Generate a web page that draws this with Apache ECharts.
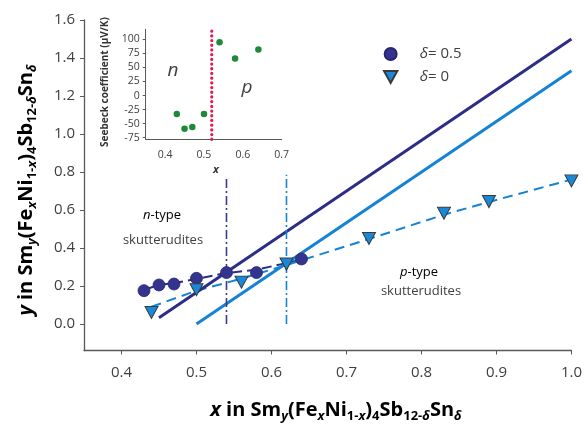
<!DOCTYPE html>
<html><head><meta charset="utf-8">
<script src="https://cdn.jsdelivr.net/npm/echarts@6/dist/echarts.min.js"></script>
<style>html,body{margin:0;padding:0;background:#fff}#c{width:585px;height:426px}</style>
</head><body><div id="c"></div>
<script>
// ---- main chart data ----
const xTicks = [0.4, 0.5, 0.6, 0.7, 0.8, 0.9, 1.0];
const yTicks = [0.0, 0.2, 0.4, 0.6, 0.8, 1.0, 1.2, 1.4, 1.6];
const circleX = [0.43, 0.45, 0.47, 0.50, 0.54, 0.58, 0.64];
const circleY = [0.175, 0.205, 0.21, 0.24, 0.27, 0.27, 0.342];
const triX = [0.44, 0.50, 0.56, 0.62, 0.73, 0.83, 0.89, 1.00];
const triY = [0.06, 0.18, 0.22, 0.315, 0.45, 0.583, 0.644, 0.753];
const fit05X = [0.43, 0.45, 0.47, 0.50, 0.54, 0.58, 0.64];
const fit05Y = [0.18, 0.205, 0.215, 0.237, 0.268, 0.285, 0.338];
const fit0X = [0.44, 0.50, 0.56, 0.62, 0.73, 0.83, 0.89, 1.00];
const fit0Y = [0.09, 0.175, 0.238, 0.31, 0.447, 0.575, 0.642, 0.76];
const theory05X = [0.45, 1.0];
const theory05Y = [0.033, 1.5];
const theory0X = [0.5, 1.0];
const theory0Y = [0.0, 1.333];
const vline05X = [0.54, 0.54];
const vline05Y = [0.0, 0.77];
const vline0X = [0.62, 0.62];
const vline0Y = [0.0, 0.785];
// ---- inset data ----
const insetXTicks = [0.4, 0.5, 0.6, 0.7];
const insetYTicks = [-75, -50, -25, 0, 25, 50, 75, 100];
const seebeckX = [0.43, 0.45, 0.47, 0.50, 0.54, 0.58, 0.64];
const seebeckY = [-33, -59, -56, -33, 95, 66, 82];
const boundaryX = [0.52, 0.52];
const boundaryY = [-78, 118];

const zip = (a, b) => a.map((v, i) => [v, b[i]]);
const DARK = '#2d2d88';
const LIGHT = '#1583d3';
const TXT = '#404040';
const FONT = '"Open Sans", "Liberation Sans", sans-serif';
const TRI = 'path://M0,0L20,0L10,18Z';

const chart = echarts.init(document.getElementById('c'), null, {renderer: 'canvas'});

const titleRich = {
  b: {fontWeight: 'bold', fontSize: 20, fontFamily: FONT, color: '#333'},
  i: {fontWeight: 'bold', fontStyle: 'italic', fontSize: 20, fontFamily: FONT, color: '#333'},
  s: {fontWeight: 'bold', fontSize: 13, fontFamily: FONT, color: '#333', padding: [13, 0, 0, 0]},
  si: {fontWeight: 'bold', fontStyle: 'italic', fontSize: 13, fontFamily: FONT, color: '#333', padding: [13, 0, 0, 0]}
};
const formula = '{b| in Sm}{si|y}{b|(Fe}{si|x}{b|Ni}{s|1-}{si|x}{b|)}{s|4}{b|Sb}{s|12-}{si|δ}{b|Sn}{si|δ}';

const option = {
  animation: false,
  grid: [
    {left: 84, right: 10.5, top: 20, bottom: 75.5},
    {left: 145.7, right: 303.3, top: 29.3, bottom: 286.7}
  ],
  xAxis: [
    {gridIndex: 0, type: 'value', min: 0.35, max: 1.0,
      axisLine: {onZero: false, lineStyle: {color: '#595959', width: 1.3}},
      axisTick: {show: true, length: 4, customValues: xTicks, lineStyle: {color: '#595959'}},
      axisLabel: {customValues: xTicks, margin: 15, fontSize: 15, fontFamily: FONT, color: TXT,
        formatter: v => v.toFixed(1)},
      splitLine: {show: false}},
    {gridIndex: 1, type: 'value', min: 0.35, max: 0.7,
      axisLine: {onZero: false, lineStyle: {color: '#595959', width: 1}},
      axisTick: {show: false},
      axisLabel: {customValues: insetXTicks, margin: 10, fontSize: 10.5, fontFamily: FONT, color: TXT,
        formatter: v => v.toFixed(1)},
      splitLine: {show: false}}
  ],
  yAxis: [
    {gridIndex: 0, type: 'value', min: -0.14, max: 1.6,
      axisLine: {show: true, onZero: false, lineStyle: {color: '#595959', width: 1.3}},
      axisTick: {show: true, length: 4, customValues: yTicks, lineStyle: {color: '#595959'}},
      axisLabel: {customValues: yTicks, margin: 9, fontSize: 15, fontFamily: FONT, color: TXT,
        formatter: v => v.toFixed(1)},
      splitLine: {show: false}},
    {gridIndex: 1, type: 'value', min: -78, max: 118,
      axisLine: {show: true, onZero: false, lineStyle: {color: '#595959', width: 1}},
      axisTick: {show: true, length: 3, customValues: insetYTicks, lineStyle: {color: '#595959'}},
      axisLabel: {customValues: insetYTicks, margin: 6, fontSize: 10.5, fontFamily: FONT, color: TXT},
      splitLine: {show: false}}
  ],
  legend: {
    left: 378, top: 40, orient: 'vertical', itemWidth: 14, itemHeight: 12, itemGap: 5,
    data: [{name: 'd05', icon: 'circle'}, {name: 'd0', icon: TRI}],
    formatter: n => n === 'd05' ? '{i|δ}{n|= 0.5}' : '{i|δ}{n|= 0}',
    textStyle: {lineHeight: 18, rich: {
      i: {fontStyle: 'italic', fontSize: 15, fontFamily: FONT, color: TXT, padding: [0, 0, 0, 17]},
      n: {fontSize: 15, fontFamily: FONT, color: TXT}
    }}
  },
  series: [
    {type: 'line', xAxisIndex: 0, yAxisIndex: 0, data: zip(fit05X, fit05Y), showSymbol: false, silent: true,
      lineStyle: {color: DARK, width: 2, type: [10, 5]}, z: 2},
    {type: 'line', xAxisIndex: 0, yAxisIndex: 0, data: zip(fit0X, fit0Y), showSymbol: false, silent: true,
      lineStyle: {color: LIGHT, width: 2, type: [10, 6]}, z: 2},
    {type: 'line', xAxisIndex: 0, yAxisIndex: 0, data: zip(theory05X, theory05Y), showSymbol: false,
      lineStyle: {color: DARK, width: 3}, z: 3},
    {type: 'line', xAxisIndex: 0, yAxisIndex: 0, data: zip(theory0X, theory0Y), showSymbol: false,
      lineStyle: {color: LIGHT, width: 3}, z: 3},
    {type: 'line', xAxisIndex: 0, yAxisIndex: 0, data: zip(vline05X, vline05Y), showSymbol: false,
      lineStyle: {color: '#3a3a90', width: 1.6, type: [9, 3, 2, 3]}, z: 3},
    {type: 'line', xAxisIndex: 0, yAxisIndex: 0, data: zip(vline0X, vline0Y), showSymbol: false,
      lineStyle: {color: LIGHT, width: 1.6, type: [9, 3, 2, 3]}, z: 3},
    {name: 'd05', type: 'scatter', xAxisIndex: 0, yAxisIndex: 0, data: zip(circleX, circleY),
      symbol: 'circle', symbolSize: 12,
      itemStyle: {color: '#34348f', borderColor: '#26266e', borderWidth: 0.8, opacity: 1}, z: 5},
    {name: 'd0', type: 'scatter', xAxisIndex: 0, yAxisIndex: 0, data: zip(triX, triY),
      symbol: TRI, symbolSize: [13, 12],
      itemStyle: {color: '#1a88d8', borderColor: '#3a3a3a', borderWidth: 1, opacity: 1}, z: 5},
    // inset
    {type: 'line', xAxisIndex: 1, yAxisIndex: 1, data: zip(boundaryX, boundaryY), showSymbol: false,
      lineStyle: {color: '#e5194c', width: 3.2, type: [0.1, 4.6], cap: 'round'}, z: 3},
    {type: 'scatter', xAxisIndex: 1, yAxisIndex: 1, data: zip(seebeckX, seebeckY),
      symbol: 'circle', symbolSize: 6.5, itemStyle: {color: '#1d8a3a', opacity: 1}, z: 4}
  ],
  graphic: [
    {type: 'text', x: 336, y: 410, style: {text: '{i|x}' + formula, rich: titleRich,
      align: 'center', verticalAlign: 'middle'}},
    {type: 'text', x: 26, y: 190, rotation: Math.PI / 2, style: {text: '{i|y}' + formula, rich: titleRich,
      align: 'center', verticalAlign: 'middle'}},
    {type: 'text', x: 105, y: 82, rotation: Math.PI / 2, style: {text: 'Seebeck coefficient (µV/K)',
      font: 'bold 10px ' + FONT, fill: '#333', align: 'center', verticalAlign: 'middle'}},
    {type: 'text', x: 216, y: 170, style: {text: 'x', font: 'italic bold 11px ' + FONT, fill: '#333',
      align: 'center', verticalAlign: 'middle'}},
    {type: 'text', x: 173, y: 71, style: {text: 'n', font: 'italic 19px ' + FONT, fill: TXT,
      align: 'center', verticalAlign: 'middle'}},
    {type: 'text', x: 247, y: 88, style: {text: 'p', font: 'italic 19px ' + FONT, fill: TXT,
      align: 'center', verticalAlign: 'middle'}},
    {type: 'text', x: 162, y: 215, style: {text: '{i|n}{t|-type}', align: 'center', verticalAlign: 'middle',
      rich: {i: {fontStyle: 'italic', fontSize: 13, fontFamily: FONT, color: TXT}, t: {fontSize: 13, fontFamily: FONT, color: TXT}}}},
    {type: 'text', x: 163, y: 240, style: {text: 'skutterudites', font: '13px ' + FONT, fill: TXT,
      align: 'center', verticalAlign: 'middle'}},
    {type: 'text', x: 419, y: 272, style: {text: '{i|p}{t|-type}', align: 'center', verticalAlign: 'middle',
      rich: {i: {fontStyle: 'italic', fontSize: 13, fontFamily: FONT, color: TXT}, t: {fontSize: 13, fontFamily: FONT, color: TXT}}}},
    {type: 'text', x: 421, y: 291, style: {text: 'skutterudites', font: '13px ' + FONT, fill: TXT,
      align: 'center', verticalAlign: 'middle'}}
  ]
};
chart.setOption(option);
</script></body></html>
